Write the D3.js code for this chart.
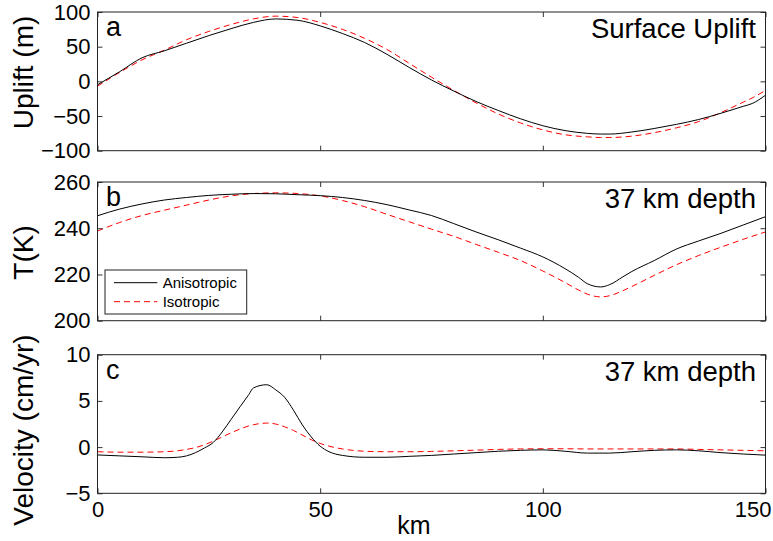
<!DOCTYPE html>
<html>
<head>
<meta charset="utf-8">
<script src="https://cdn.jsdelivr.net/npm/d3@7"></script>
<style>
  body { margin: 0; background: #fff; }
  svg { display: block; font-family: "Liberation Sans", Arial, sans-serif; }
</style>
</head>
<body>
<svg id="chart"></svg>
<script>
// panel a: surface uplift (m)
const kmA = [0, 5, 10, 15, 20, 25, 30, 35, 40, 45, 50, 55, 60, 65, 70, 75, 80, 85, 90, 95, 100, 105, 110, 113, 115, 120, 125, 130, 135, 140, 145, 147, 150];
const upliftAniso = [-5, 14, 34, 44, 55, 66, 76, 85, 90, 88, 80, 69, 56, 39, 20, 2, -14, -29, -42, -54, -64, -71, -75, -76, -76, -73, -68, -62, -55, -46, -36, -32, -20];
const upliftIso = [-7, 13, 31, 45, 60, 72, 82, 90, 94, 92, 85, 75, 62, 46, 26, 6, -13, -31, -47, -60, -70, -77, -80, -81, -81, -79, -74, -67, -58, -45, -30, -24, -13];

// panel b: temperature at 37 km depth
const kmB = [0, 5, 10, 15, 20, 25, 30, 35, 40, 45, 50, 55, 60, 65, 70, 75, 80, 85, 90, 95, 100, 105, 108, 110, 113, 115, 118, 120, 125, 130, 135, 140, 145, 150];
const tempAniso = [245.4, 248.3, 250.5, 252.2, 253.3, 254.2, 254.7, 255, 254.9, 254.5, 254.1, 253.3, 252, 250.2, 247.9, 245.5, 242, 238.4, 235, 231.4, 227.6, 222.5, 218.8, 216, 214.6, 215.6, 219, 221.3, 226, 231, 234.5, 237.8, 241.4, 245];
const tempIso = [238.8, 242.5, 245.5, 247.8, 250, 252.2, 254, 255, 255.3, 255, 254, 252, 249.3, 246, 242.8, 239.6, 236.5, 233, 229.6, 226, 221.5, 216.5, 213.3, 211.5, 210.3, 210.8, 213, 214.8, 219.6, 224.2, 228.2, 231.8, 235.2, 238.4];

// panel c: velocity at 37 km depth
const kmC = [0, 5, 10, 15, 18, 20, 22, 24, 26, 28, 30, 32, 34, 35, 38, 40, 42, 44, 46, 48, 50, 52, 55, 60, 65, 70, 75, 80, 85, 90, 95, 100, 105, 110, 115, 120, 125, 130, 135, 140, 145, 150];
const velAniso = [-0.85, -0.95, -1.05, -1.15, -1.1, -0.95, -0.6, -0.1, 0.5, 1.64, 3.0, 4.36, 5.7, 6.4, 6.75, 6.2, 5.4, 4.0, 2.4, 1.1, 0.1, -0.5, -0.9, -1.1, -1.1, -1.0, -0.9, -0.75, -0.6, -0.45, -0.35, -0.3, -0.45, -0.65, -0.65, -0.5, -0.35, -0.3, -0.4, -0.6, -0.75, -0.87];
const velIso = [-0.5, -0.55, -0.55, -0.5, -0.4, -0.25, -0.05, 0.25, 0.65, 1.1, 1.55, 1.95, 2.3, 2.42, 2.6, 2.5, 2.2, 1.8, 1.3, 0.8, 0.4, 0.1, -0.2, -0.45, -0.5, -0.5, -0.47, -0.4, -0.33, -0.25, -0.2, -0.18, -0.18, -0.2, -0.2, -0.2, -0.2, -0.2, -0.25, -0.3, -0.35, -0.4];

const xTicks = [0, 50, 100, 150];
const seriesNames = ["Anisotropic", "Isotropic"];

const width = 773, height = 541;
const left = 97.5, right = 765.5;

const svg = d3.select("#chart")
  .attr("width", width)
  .attr("height", height)
  .attr("viewBox", [0, 0, width, height]);

const x = d3.scaleLinear().domain([0, 150]).range([left, right]);

const panels = [
  { km: kmA, aniso: upliftAniso, iso: upliftIso, top: 12, bottom: 150.7, domain: [-100, 100], ticks: [-100, -50, 0, 50, 100],
    letter: "a", title: "Surface Uplift", ylabel: "Uplift (m)", ylabelY: 72.5 },
  { km: kmB, aniso: tempAniso, iso: tempIso, top: 182, bottom: 320.7, domain: [200, 260], ticks: [200, 220, 240, 260],
    letter: "b", title: "37 km depth", ylabel: "T(K)", ylabelY: 252.5, legend: true },
  { km: kmC, aniso: velAniso, iso: velIso, top: 354.7, bottom: 493.3, domain: [-5, 10], ticks: [-5, 0, 5, 10],
    letter: "c", title: "37 km depth", ylabel: "Velocity (cm/yr)", ylabelY: 430, xlabels: true }
];

panels.forEach(p => {
  const y = d3.scaleLinear().domain(p.domain).range([p.bottom, p.top]);
  const g = svg.append("g");

  const line = d3.line()
    .x(d => x(d[0]))
    .y(d => y(d[1]))
    .curve(d3.curveMonotoneX);

  // curves
  g.append("path")
    .datum(p.km.map((k, i) => [k, p.iso[i]]))
    .attr("fill", "none")
    .attr("stroke", "#ff0000")
    .attr("stroke-width", 1)
    .attr("stroke-dasharray", "6,4")
    .attr("d", line);
  g.append("path")
    .datum(p.km.map((k, i) => [k, p.aniso[i]]))
    .attr("fill", "none")
    .attr("stroke", "#000")
    .attr("stroke-width", 1)
    .attr("d", line);

  // axes, ticks pointing inward on all four sides
  g.append("g")
    .attr("transform", `translate(${left},0)`)
    .call(d3.axisLeft(y).tickValues(p.ticks).tickSize(-5).tickPadding(7).tickFormat(d3.format("d")))
    .call(a => a.select(".domain").remove())
    .call(a => a.selectAll("text").attr("font-size", 22).attr("fill", "#000"));
  g.append("g")
    .attr("transform", `translate(${right},0)`)
    .call(d3.axisRight(y).tickValues(p.ticks).tickSize(-5).tickFormat(""))
    .call(a => a.select(".domain").remove());
  g.append("g")
    .attr("transform", `translate(0,${p.top})`)
    .call(d3.axisTop(x).tickValues(xTicks).tickSize(-5).tickFormat(""))
    .call(a => a.select(".domain").remove());
  g.append("g")
    .attr("transform", `translate(0,${p.bottom})`)
    .call(d3.axisBottom(x).tickValues(xTicks).tickSize(-5).tickPadding(8)
      .tickFormat(p.xlabels ? d3.format("d") : ""))
    .call(a => a.select(".domain").remove())
    .call(a => a.selectAll("text").attr("font-size", 22).attr("fill", "#000"))
    // last label is pulled inside the figure edge, as in the original
    .call(a => a.selectAll(".tick").filter(d => d === 150).select("text")
      .attr("text-anchor", "end").attr("x", 771 - right));
  g.selectAll(".tick line").attr("stroke", "#333");

  // frame
  g.append("rect")
    .attr("x", left).attr("y", p.top)
    .attr("width", right - left).attr("height", p.bottom - p.top)
    .attr("fill", "none").attr("stroke", "#222").attr("stroke-width", 1);

  g.append("text")
    .attr("x", 106).attr("y", p.top + 24)
    .attr("font-size", 27)
    .text(p.letter);
  g.append("text")
    .attr("x", 756).attr("y", p.top + 26)
    .attr("text-anchor", "end")
    .attr("font-size", 27.5)
    .text(p.title);
  g.append("text")
    .attr("transform", `translate(33,${p.ylabelY}) rotate(-90)`)
    .attr("text-anchor", "middle")
    .attr("font-size", 28)
    .text(p.ylabel);

  if (p.legend) {
    const lg = g.append("g").attr("transform", "translate(105,270)");
    lg.append("rect")
      .attr("width", 141.7).attr("height", 44)
      .attr("fill", "#fff").attr("stroke", "#222");
    seriesNames.forEach((name, i) => {
      lg.append("line")
        .attr("x1", 9).attr("x2", 52.3)
        .attr("y1", 12.7 + i * 19).attr("y2", 12.7 + i * 19)
        .attr("stroke", i ? "#ff0000" : "#000")
        .attr("stroke-dasharray", i ? "6,4" : null);
      lg.append("text")
        .attr("x", 57.7).attr("y", 12.7 + i * 19)
        .attr("dy", "0.35em")
        .attr("font-size", 15)
        .text(name);
    });
  }
});

svg.append("text")
  .attr("x", 414).attr("y", 534)
  .attr("text-anchor", "middle")
  .attr("font-size", 25)
  .text("km");
</script>
</body>
</html>
